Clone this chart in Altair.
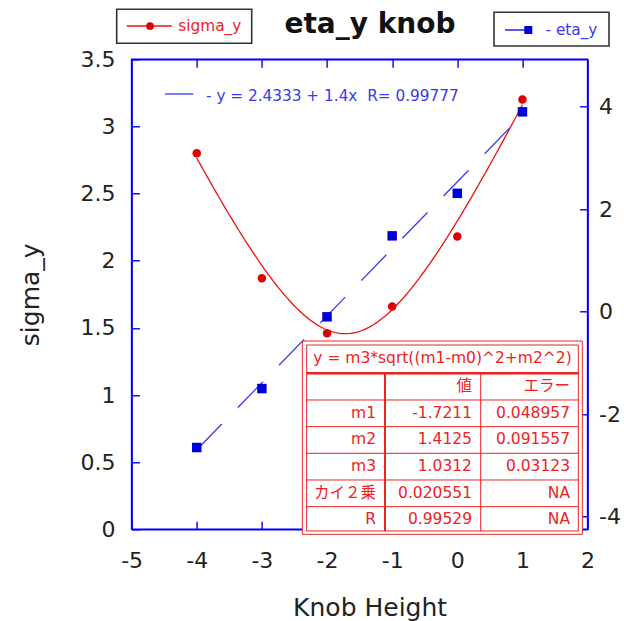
import altair as alt
import pandas as pd
import numpy as np

# ---------------- data ----------------
knob = [-4, -3, -2, -1, 0, 1]
sigma_y = [2.8, 1.87, 1.46, 1.66, 2.18, 3.2]
eta_y = [-2.65, -1.5, -0.1, 1.48, 2.31, 3.9]

# fit parameters shown in the chart's table: y = m3*sqrt((m1-m0)^2+m2^2)
m1, m2, m3 = -1.7211, 1.4125, 1.0312
table_names = ["m1", "m2", "m3", "カイ２乗", "R"]
table_values = ["-1.7211", "1.4125", "1.0312", "0.020551", "0.99529"]
table_errors = ["0.048957", "0.091557", "0.03123", "NA", "NA"]
table_header = ["値", "エラー"]
table_formula = "y = m3*sqrt((m1-m0)^2+m2^2)"
lin_fit_text = "- y = 2.4333 + 1.4x\u00a0\u00a0R= 0.99777"

x_ticks = [-5, -4, -3, -2, -1, 0, 1, 2]
x_top_ticks = [-4, -3, -2, -1, 0, 1]
yl_ticks = [0, 0.5, 1, 1.5, 2, 2.5, 3, 3.5]
yr_ticks = [-4, -2, 0, 2, 4]

# ---------------- layout ----------------
W, H = 456, 470
OX, OY = 131.6, 59.3
FONT = "DejaVu Sans, Noto Sans CJK JP"
RED = "#ee1111"
BLUE = "#0000dd"
LBLUE = "#3a3aee"
TRED = "#ee2222"

sig_df = pd.DataFrame({"x": knob, "y": sigma_y})
eta_df = pd.DataFrame({"x": knob, "y": eta_y})
cx = np.linspace(-4, 1, 201)
curve_df = pd.DataFrame({"x": cx, "y": m3 * np.sqrt((cx - m1) ** 2 + m2 ** 2)})

xscale = alt.Scale(domain=[-5, 2], nice=False, zero=False)
ylscale = alt.Scale(domain=[0, 3.5], nice=False, zero=False)
yrscale = alt.Scale(domain=[-4.246, 4.925], nice=False, zero=False)

inward = alt.ExprRef(expr="-8")
common = dict(domainColor="blue", domainWidth=1.5, tickColor="blue", tickWidth=1.4,
              tickSize=inward, grid=False, labelFont=FONT, labelFontSize=22,
              labelColor="#222222", titleFont=FONT, titleColor="#222222",
              titleFontWeight="normal", labelFlush=False, labelOverlap=False)

x_bottom = alt.Axis(orient="bottom", values=x_ticks, labelExpr="datum.value + ''",
                    labelPadding=29, titleFontSize=25, titleX=238, titleY=86,
                    titleAlign="center", titleBaseline="alphabetic", **common)
x_top = alt.Axis(orient="top", values=x_top_ticks, labels=False, **common)
y_left = alt.Axis(orient="left", values=yl_ticks, labelExpr="datum.value + ''",
                  labelPadding=24.5, titleFontSize=25, titleX=-93, titleY=235,
                  titleAngle=270, titleAlign="center", titleBaseline="alphabetic",
                  **common)
y_right = alt.Axis(orient="right", values=yr_ticks, labelExpr="datum.value + ''",
                   labelPadding=19, labelAlign="left", **common)

red_curve = alt.Chart(curve_df).mark_line(color=RED, strokeWidth=1.3).encode(
    x=alt.X("x:Q", scale=xscale, axis=x_bottom, title="Knob Height"),
    y=alt.Y("y:Q", scale=ylscale, axis=y_left, title="sigma_y"),
)
red_pts = alt.Chart(sig_df).mark_circle(color="#dd0000", size=72, opacity=1).encode(
    x=alt.X("x:Q", scale=xscale, axis=x_bottom, title="Knob Height"),
    y=alt.Y("y:Q", scale=ylscale, axis=y_left, title="sigma_y"),
)
blue_line = alt.Chart(eta_df).transform_regression("x", "y", extent=[-4, 1]).mark_line(
    color=LBLUE, strokeWidth=1.3, strokeDash=[36, 23]).encode(
    x=alt.X("x:Q", scale=xscale, axis=x_top, title=None),
    y=alt.Y("y:Q", scale=yrscale, axis=y_right, title=None),
)
blue_pts = alt.Chart(eta_df).mark_square(color=BLUE, size=90, opacity=1).encode(
    x=alt.X("x:Q", scale=xscale, axis=x_top, title=None),
    y=alt.Y("y:Q", scale=yrscale, axis=y_right, title=None),
)

red = alt.layer(red_curve, red_pts)
blue = alt.layer(blue_line, blue_pts)

# ---------------- annotation geometry (pixels relative to plot origin) ----------------
def rx(v):
    return v - OX

def ry(v):
    return v - OY

boxes = pd.DataFrame([
    # legend boxes
    dict(x=rx(116.7), x2=rx(251.7), y=ry(9.3), y2=ry(43.3), c="#333333", w=1.6),
    dict(x=rx(494.0), x2=rx(609.0), y=ry(12.3), y2=ry(46.0), c="#333333", w=1.6),
    # table double border
    dict(x=rx(302.3), x2=rx(582.3), y=ry(341.0), y2=ry(534.3), c=TRED, w=1.0),
    dict(x=rx(306.7), x2=rx(578.3), y=ry(345.0), y2=ry(531.0), c=TRED, w=1.0),
])

T_L, T_R, T_B = rx(306.7), rx(578.3), ry(531.0)
HDR = ry(373.3)
RH = 26.67
rules = []
for k in range(6):
    rules.append(dict(x=T_L, x2=T_R, y=HDR + k * RH, y2=HDR + k * RH, c=TRED,
                      w=2.4 if k == 0 else 1.0))
rules.append(dict(x=rx(385.0), x2=rx(385.0), y=HDR, y2=T_B, c=TRED, w=2.0))
rules.append(dict(x=rx(480.7), x2=rx(480.7), y=HDR, y2=T_B, c=TRED, w=1.0))
# legend sample lines
rules.append(dict(x=rx(126.7), x2=rx(171.7), y=ry(26.0), y2=ry(26.0), c=RED, w=1.3))
rules.append(dict(x=rx(505.0), x2=rx(526.0), y=ry(30.0), y2=ry(30.0), c=BLUE, w=1.3))
rules.append(dict(x=rx(165.0), x2=rx(193.3), y=ry(94.0), y2=ry(94.0), c=LBLUE, w=1.3))
rules = pd.DataFrame(rules)

col_right = [rx(376.0), rx(472.0), rx(570.0)]
cells = [dict(x=col_right[1], y=HDR + 17.7, t=table_header[0]),
         dict(x=col_right[2], y=HDR + 17.7, t=table_header[1])]
for i, (n, v, e) in enumerate(zip(table_names, table_values, table_errors)):
    yb = HDR + (i + 1) * RH + 17.7
    cells += [dict(x=col_right[0], y=yb, t=n), dict(x=col_right[1], y=yb, t=v),
              dict(x=col_right[2], y=yb, t=e)]
cells = pd.DataFrame(cells)

PX = lambda f: alt.X(f, scale=None, axis=None)
PY = lambda f: alt.Y(f, scale=None, axis=None)

box_layer = alt.Chart(boxes).mark_rect(fill="white").encode(
    x=PX("x:Q"), x2="x2:Q", y=PY("y:Q"), y2="y2:Q",
    stroke=alt.Stroke("c:N", scale=None), strokeWidth=alt.StrokeWidth("w:Q", scale=None))
rule_layer = alt.Chart(rules).mark_rule().encode(
    x=PX("x:Q"), x2="x2:Q", y=PY("y:Q"), y2="y2:Q",
    color=alt.Color("c:N", scale=None), strokeWidth=alt.StrokeWidth("w:Q", scale=None))
cell_layer = alt.Chart(cells).mark_text(align="right", baseline="alphabetic", font=FONT,
                                        fontSize=15.5, color=TRED).encode(
    x=PX("x:Q"), y=PY("y:Q"), text="t:N")
formula_layer = alt.Chart(pd.DataFrame({"x": [rx(442.5)], "y": [ry(363.0)], "t": [table_formula]})
                          ).mark_text(align="center", baseline="alphabetic", font=FONT,
                                      fontSize=15.5, color=TRED).encode(
    x=PX("x:Q"), y=PY("y:Q"), text="t:N")

leg_dot = alt.Chart(sig_df.head(1)).mark_circle(color="#dd0000", size=60, opacity=1).encode(
    x=alt.value(rx(150.0)), y=alt.value(ry(26.0)))
leg_sq = alt.Chart(eta_df.head(1)).mark_square(color=BLUE, size=64, opacity=1).encode(
    x=alt.value(rx(528.3)), y=alt.value(ry(30.0)))

texts = pd.DataFrame([
    dict(x=rx(178.3), y=ry(30.8), t="sigma_y", c=TRED),
    dict(x=rx(545.5), y=ry(35.0), t="- eta_y", c=LBLUE),
    dict(x=rx(206.0), y=ry(100.5), t=lin_fit_text, c=LBLUE),
])
small_text = alt.Chart(texts).mark_text(align="left", baseline="alphabetic", font=FONT,
                                        fontSize=15.3).encode(
    x=PX("x:Q"), y=PY("y:Q"), text="t:N", color=alt.Color("c:N", scale=None))
title_layer = alt.Chart(pd.DataFrame({"x": [rx(370.0)], "y": [ry(33.0)], "t": ["eta_y knob"]})
                        ).mark_text(align="center", baseline="alphabetic", font=FONT,
                                    fontSize=28, fontWeight="bold", color="#111111").encode(
    x=PX("x:Q"), y=PY("y:Q"), text="t:N")

chart = alt.layer(
    red, blue, box_layer, rule_layer, cell_layer, formula_layer,
    leg_dot, leg_sq, small_text, title_layer,
).resolve_scale(y="independent").resolve_axis(x="independent").properties(
    width=W, height=H, autosize="none",
    padding={"left": OX, "top": OY, "right": 624 - OX - W, "bottom": 621 - OY - H},
    background="white",
).configure_view(stroke="blue", strokeWidth=1.5)

chart.save("out.html", embed_options={"renderer": "svg", "actions": False})
